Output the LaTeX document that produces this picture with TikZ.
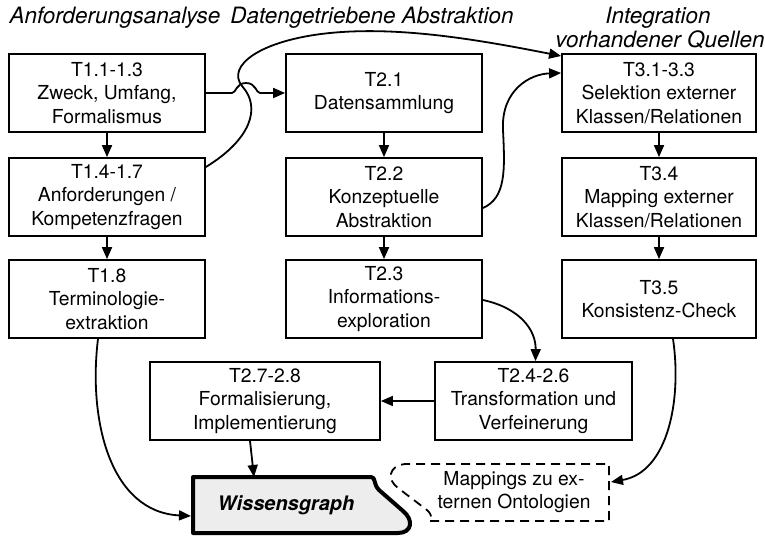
\documentclass[tikz,border=0pt]{standalone}
\usepackage{fontspec}
\setmainfont{TeX Gyre Heros}
\usetikzlibrary{arrows.meta}
\begin{document}
\begin{tikzpicture}[x=1pt,y=-1pt,
  box/.style={draw=black,line width=1.8pt,minimum width=196pt,minimum height=78pt,inner sep=0pt,align=center,font=\fontsize{19.3}{23.5}\selectfont},
  hdr/.style={anchor=base,font=\fontsize{22.5}{25}\selectfont\itshape},
  conn/.style={line width=1.8pt,-{Triangle[length=12pt,width=10pt]}},
  plain/.style={line width=1.8pt}]
\useasboundingbox (0,0) rectangle (765,537);
% headers
\node[hdr] (h1) at (115,24) {Anforderungsanalyse};
\node[hdr] (h2) at (372,24) {Datengetriebene Abstraktion};
\node[hdr] (h3a) at (658,24) {Integration};
\node[hdr] (h3b) at (660,48) {vorhandener Quellen};
% boxes
\node[box] (t11) at (107,93) {T1.1-1.3\\Zweck, Umfang,\\Formalismus};
\node[box] (t14) at (107,197) {T1.4-1.7\\Anforderungen /\\Kompetenzfragen};
\node[box] (t18) at (107,299) {T1.8\\Terminologie-\\extraktion};
\node[box] (t21) at (384,93) {T2.1\\Datensammlung};
\node[box] (t22) at (384,197) {T2.2\\Konzeptuelle\\Abstraktion};
\node[box] (t23) at (384,299) {T2.3\\Informations-\\exploration};
\node[box,minimum width=194pt] (t31) at (659,93) {T3.1-3.3\\Selektion externer\\Klassen/Relationen};
\node[box,minimum width=194pt] (t34) at (659,197) {T3.4\\Mapping externer\\Klassen/Relationen};
\node[box,minimum width=194pt] (t35) at (659,299) {T3.5\\Konsistenz-Check};
\node[box,minimum width=230pt] (t27) at (265,401) {T2.7-2.8\\Formalisierung,\\Implementierung};
\node[box,minimum width=197pt] (t24) at (533.5,401) {T2.4-2.6\\Transformation und\\Verfeinerung};
% Wissensgraph shape
\draw[line width=4pt,fill=black!7,line join=round]
  (193,477) -- (371,477) .. controls (376,477) and (373,484) .. (379,490)
  -- (403,511) .. controls (414,520) and (412,533) .. (398,533)
  -- (193,533) -- cycle;
\node[font=\fontsize{20}{24}\selectfont\bfseries\itshape] (wg) at (286,505) {Wissensgraph};
\coordinate (wgtop) at (254,477);
\coordinate (wgleft) at (191,516);
% Mappings shape
\draw[line width=1.8pt,dash pattern=on 9pt off 6pt]
  (430,521) -- (609,521) -- (609,464) -- (405,464)
  .. controls (388,466) and (387,480) .. (398,488)
  -- (423,507) .. controls (431,512) and (433,518) .. (430,521);
\node[align=center,font=\fontsize{19.3}{23.5}\selectfont] (map) at (514,492) {Mappings zu ex-\\ternen Ontologien};
\coordinate (mapright) at (611,482);
% straight arrows
\draw[conn] (t11) -- (t14);
\draw[conn] (t14) -- (t18);
\draw[conn] (t21) -- (t22);
\draw[conn] (t22) -- (t23);
\draw[conn] (t31) -- (t34);
\draw[conn] (t34) -- (t35);
\draw[conn] (t24) -- (t27);
\draw[conn] ([xshift=-15pt]t27.south) -- (wgtop);
% hop arrow T1.1 -> T2.1
\draw[conn] (t11.east) -- (232,93) .. controls (236,93) and (236,83) .. (246,83)
  .. controls (256,83) and (256,93) .. (260,93) -- (t21.west);
% T1.4 -> T3.1
\draw[conn] ([yshift=30pt]t14.east) .. controls (250,140) and (262,108) .. (242,86)
  .. controls (226,66) and (260,40) .. (330,33)
  .. controls (400,26) and (480,40) .. ([yshift=37pt]t31.west);
% T2.2 -> T3.1
\draw[conn] ([yshift=-11pt]t22.east) .. controls (506,198) and (505,170) .. (503,130)
  .. controls (501,90) and (530,74) .. ([yshift=20pt]t31.west);
% T2.3 -> T2.4
\draw[conn] ([yshift=-1pt]t23.east) .. controls (520,308) and (536,330) .. ([xshift=2pt]t24.north);
% T1.8 -> Wissensgraph
\draw[conn] ([xshift=-9pt]t18.south) .. controls (88,420) and (110,512) .. (wgleft);
% T3.5 -> Mappings
\draw[conn] ([xshift=14pt]t35.south) .. controls (682,400) and (668,472) .. (mapright);
\end{tikzpicture}
\end{document}
